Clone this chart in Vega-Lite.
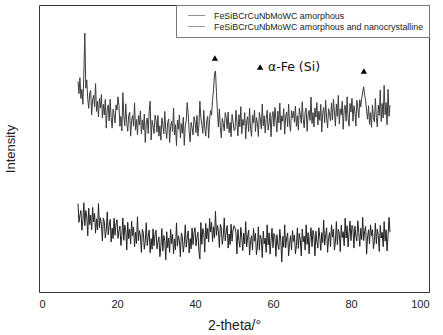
{
"$schema": "https://vega.github.io/schema/vega-lite/v6.json",
"width": 390, "height": 287,
"autosize": {"type": "none"},
"padding": {"left": 39, "top": 5, "right": 14, "bottom": 43},
"background": "white",
"config": {"view": {"stroke": "#333", "strokeWidth": 1}, "font": "Liberation Sans"},
"datasets": {
"xrd": [
{"x":10,"a":30.8,"b":73.4},{"x":10.25,"a":24.3,"b":69.1},{"x":10.5,"a":26.8,"b":74.7},{"x":10.75,"a":28.4,"b":67.4},{"x":11,"a":21.5,"b":70.6},{"x":11.25,"a":25.0,"b":65.4},{"x":11.5,"a":31.1,"b":76},{"x":11.75,"a":23.1,"b":90.2},{"x":12,"a":28.4,"b":71},{"x":12.25,"a":26.5,"b":73.9},
{"x":12.5,"a":19.6,"b":67.2},{"x":12.75,"a":29.2,"b":64.0},{"x":13,"a":23.5,"b":69.3},{"x":13.25,"a":26.8,"b":70.2},{"x":13.5,"a":21.7,"b":61.7},{"x":13.75,"a":29.5,"b":67.0},{"x":14,"a":24.4,"b":68.5},{"x":14.25,"a":27.4,"b":64.6},{"x":14.5,"a":20.5,"b":72.6},{"x":14.75,"a":25.5,"b":62.9},
{"x":15,"a":21.6,"b":66.4},{"x":15.25,"a":30.8,"b":61.0},{"x":15.5,"a":22.4,"b":67.5},{"x":15.75,"a":25.9,"b":64.1},{"x":16,"a":23.5,"b":68.8},{"x":16.25,"a":17.8,"b":60.6},{"x":16.5,"a":25.8,"b":65.4},{"x":16.75,"a":24.5,"b":61.7},{"x":17,"a":18.8,"b":67.1},{"x":17.25,"a":21.6,"b":57.1},
{"x":17.5,"a":27.9,"b":63.7},{"x":17.75,"a":19.9,"b":65.2},{"x":18,"a":23.0,"b":59.6},{"x":18.25,"a":25.3,"b":67.2},{"x":18.5,"a":17.4,"b":60.8},{"x":18.75,"a":22.3,"b":57.1},{"x":19,"a":18.6,"b":63.7},{"x":19.25,"a":25.7,"b":61.7},{"x":19.5,"a":19.8,"b":58.9},{"x":19.75,"a":23.7,"b":65.2},
{"x":20,"a":25.2,"b":63.4},{"x":20.25,"a":18.7,"b":68.0},{"x":20.5,"a":21.3,"b":65.0},{"x":20.75,"a":23.0,"b":57.7},{"x":21,"a":16.2,"b":61.2},{"x":21.25,"a":19.7,"b":56.1},{"x":21.5,"a":25.8,"b":69.5},{"x":21.75,"a":18.0,"b":61.3},{"x":22,"a":23.3,"b":57.9},{"x":22.25,"a":21.5,"b":65.6},
{"x":22.5,"a":14.6,"b":59.1},{"x":22.75,"a":24.3,"b":56.0},{"x":23,"a":18.6,"b":61.5},{"x":23.25,"a":21.9,"b":62.6},{"x":23.5,"a":16.8,"b":54.3},{"x":23.75,"a":24.7,"b":59.8},{"x":24,"a":19.6,"b":61.5},{"x":24.25,"a":22.6,"b":57.8},{"x":24.5,"a":15.7,"b":65.9},{"x":24.75,"a":20.8,"b":56.4},
{"x":25,"a":16.9,"b":60.1},{"x":25.25,"a":26.2,"b":54.8},{"x":25.5,"a":17.9,"b":61.5},{"x":25.75,"a":21.4,"b":58.2},{"x":26,"a":19.5,"b":63.1},{"x":26.25,"a":13.8,"b":55.1},{"x":26.5,"a":21.9,"b":60.0},{"x":26.75,"a":20.6,"b":56.5},{"x":27,"a":14.9,"b":62.0},{"x":27.25,"a":17.8,"b":52.1},
{"x":27.5,"a":24.1,"b":58.9},{"x":27.75,"a":16.2,"b":60.6},{"x":28,"a":19.3,"b":55.2},{"x":28.25,"a":21.6,"b":62.9},{"x":28.5,"a":13.7,"b":66.5},{"x":28.75,"a":18.6,"b":53.0},{"x":29,"a":14.9,"b":59.8},{"x":29.25,"a":22.0,"b":57.9},{"x":29.5,"a":16.1,"b":55.2},{"x":29.75,"a":20.0,"b":61.6},
{"x":30,"a":21.5,"b":59.9},{"x":30.25,"a":15.0,"b":55.7},{"x":30.5,"a":17.5,"b":61.5},{"x":30.75,"a":19.2,"b":54.3},{"x":31,"a":12.3,"b":57.9},{"x":31.25,"a":15.9,"b":52.9},{"x":31.5,"a":22.1,"b":60.7},{"x":31.75,"a":14.3,"b":58.3},{"x":32,"a":19.7,"b":55.1},{"x":32.25,"a":18.0,"b":62.9},
{"x":32.5,"a":11.2,"b":56.5},{"x":32.75,"a":21.0,"b":53.5},{"x":33,"a":15.4,"b":59.1},{"x":33.25,"a":18.8,"b":60.3},{"x":33.5,"a":13.8,"b":52.1},{"x":33.75,"a":21.8,"b":57.7},{"x":34,"a":16.9,"b":59.5},{"x":34.25,"a":20.1,"b":55.9},{"x":34.5,"a":13.3,"b":64.1},{"x":34.75,"a":18.5,"b":54.7},
{"x":35,"a":14.7,"b":58.3},{"x":35.25,"a":24.1,"b":51.0},{"x":35.5,"a":16.0,"b":59.9},{"x":35.75,"a":19.6,"b":56.7},{"x":36,"a":17.9,"b":61.7},{"x":36.25,"a":12.3,"b":53.7},{"x":36.5,"a":20.6,"b":58.7},{"x":36.75,"a":19.4,"b":55.3},{"x":37,"a":13.9,"b":60.9},{"x":37.25,"a":16.9,"b":51.1},
{"x":37.5,"a":23.4,"b":57.9},{"x":37.75,"a":15.6,"b":59.7},{"x":38,"a":18.9,"b":66.0},{"x":38.25,"a":21.3,"b":62.1},{"x":38.5,"a":13.6,"b":55.9},{"x":38.75,"a":18.6,"b":52.3},{"x":39,"a":15.0,"b":59.1},{"x":39.25,"a":22.3,"b":57.3},{"x":39.5,"a":16.5,"b":54.7},{"x":39.75,"a":20.6,"b":61.1},
{"x":40,"a":22.4,"b":59.5},{"x":40.25,"a":16.1,"b":55.5},{"x":40.5,"a":18.9,"b":61.5},{"x":40.75,"a":20.8,"b":54.3},{"x":41,"a":14.1,"b":57.9},{"x":41.25,"a":11.5,"b":66.5},{"x":41.5,"a":24.2,"b":60.7},{"x":41.75,"a":16.6,"b":58.3},{"x":42,"a":22.1,"b":55.3},{"x":42.25,"a":20.5,"b":63.3},
{"x":42.5,"a":13.9,"b":57.1},{"x":42.75,"a":23.9,"b":54.3},{"x":43,"a":18.5,"b":59.6},{"x":43.25,"a":22.2,"b":61.2},{"x":43.5,"a":17.4,"b":53.6},{"x":43.75,"a":25.6,"b":60.2},{"x":44,"a":20.9,"b":63.2},{"x":44.25,"a":24.3,"b":61.6},{"x":44.5,"a":17.6,"b":67.0},{"x":44.75,"a":22.7,"b":70.5},
{"x":45,"a":18.8,"b":76.0},{"x":45.25,"a":28.1,"b":77.0},{"x":45.5,"a":19.7,"b":69.5},{"x":45.75,"a":23.2,"b":62.8},{"x":46,"a":21.2,"b":57.5},{"x":46.25,"a":15.5,"b":63.8},{"x":46.5,"a":23.6,"b":57.4},{"x":46.75,"a":22.3,"b":53.7},{"x":47,"a":16.6,"b":60.5},{"x":47.25,"a":19.5,"b":58.7},
{"x":47.5,"a":25.8,"b":56.1},{"x":47.75,"a":17.8,"b":62.5},{"x":48,"a":20.9,"b":60.9},{"x":48.25,"a":23.2,"b":56.9},{"x":48.5,"a":15.3,"b":62.7},{"x":48.75,"a":20.2,"b":55.5},{"x":49,"a":16.5,"b":59.1},{"x":49.25,"a":23.6,"b":54.1},{"x":49.5,"a":17.7,"b":61.9},{"x":49.75,"a":21.6,"b":59.5},
{"x":50,"a":23.1,"b":56.3},{"x":50.25,"a":22.4,"b":56.5},{"x":50.5,"a":20.6,"b":63.3},{"x":50.75,"a":13.3,"b":59.1},{"x":51,"a":21.8,"b":54.4},{"x":51.25,"a":17.9,"b":61.8},{"x":51.5,"a":15.6,"b":57.6},{"x":51.75,"a":22.5,"b":64.6},{"x":52,"a":19.2,"b":55.1},{"x":52.25,"a":14.4,"b":60.1},
{"x":52.5,"a":20.5,"b":58.1},{"x":52.75,"a":16.8,"b":62.5},{"x":53,"a":24.5,"b":53.3},{"x":53.25,"a":15.7,"b":59.7},{"x":53.5,"a":19.2,"b":61.1},{"x":53.75,"a":21.6,"b":55.9},{"x":54,"a":12.9,"b":64.0},{"x":54.25,"a":17.7,"b":57.0},{"x":54.5,"a":19.6,"b":54.2},{"x":54.75,"a":14.6,"b":61.6},
{"x":55,"a":22.1,"b":58.9},{"x":55.25,"a":17.7,"b":63.4},{"x":55.5,"a":20.4,"b":55.9},{"x":55.75,"a":13.0,"b":60.8},{"x":56,"a":15.7,"b":58.9},{"x":56.25,"a":22.7,"b":54.2},{"x":56.5,"a":14.6,"b":62.6},{"x":56.75,"a":19.8,"b":60.3},{"x":57,"a":18.4,"b":56.8},{"x":57.25,"a":12.0,"b":65.5},
{"x":57.5,"a":21.2,"b":57.9},{"x":57.75,"a":16.8,"b":61.4},{"x":58,"a":18.8,"b":55.4},{"x":58.25,"a":13.8,"b":60.1},{"x":58.5,"a":23.4,"b":63.3},{"x":58.75,"a":16.4,"b":56.4},{"x":59,"a":20.6,"b":58.7},{"x":59.25,"a":13.2,"b":62.5},{"x":59.5,"a":18.0,"b":54.1},{"x":59.75,"a":22.2,"b":61.0},
{"x":60,"a":15.4,"b":62.9},{"x":60.25,"a":20.4,"b":57.7},{"x":60.5,"a":19.2,"b":64.3},{"x":60.75,"a":12.4,"b":60.3},{"x":61,"a":20.0,"b":55.8},{"x":61.25,"a":16.4,"b":63.0},{"x":61.5,"a":14.8,"b":58.9},{"x":61.75,"a":21.8,"b":65.8},{"x":62,"a":17.8,"b":56.5},{"x":62.25,"a":10.5,"b":61.4},
{"x":62.5,"a":19.4,"b":59.5},{"x":62.75,"a":15.6,"b":63.9},{"x":63,"a":23.4,"b":55.0},{"x":63.25,"a":15.4,"b":61.3},{"x":63.5,"a":18.8,"b":62.7},{"x":63.75,"a":20.6,"b":57.6},{"x":64,"a":12.6,"b":65.5},{"x":64.25,"a":17.0,"b":58.6},{"x":64.5,"a":19.6,"b":56.0},{"x":64.75,"a":14.6,"b":63.2},
{"x":65,"a":21.4,"b":60.6},{"x":65.25,"a":17.6,"b":63.0},{"x":65.5,"a":19.9,"b":59.2},{"x":65.75,"a":13.3,"b":64.8},{"x":66,"a":16.1,"b":57.7},{"x":66.25,"a":22.3,"b":61.4},{"x":66.5,"a":15.2,"b":56.4},{"x":66.75,"a":20.4,"b":64.1},{"x":67,"a":18.2,"b":61.9},{"x":67.25,"a":12.6,"b":58.8},
{"x":67.5,"a":21.9,"b":66.3},{"x":67.75,"a":17.5,"b":60.2},{"x":68,"a":19.5,"b":57.2},{"x":68.25,"a":14.6,"b":62.8},{"x":68.5,"a":23.4,"b":64.1},{"x":68.75,"a":16.6,"b":56.0},{"x":69,"a":20.7,"b":61.6},{"x":69.25,"a":13.3,"b":63.3},{"x":69.5,"a":18.9,"b":59.8},{"x":69.75,"a":22.4,"b":67.9},
{"x":70,"a":15.8,"b":58.7},{"x":70.25,"a":21.5,"b":62.5},{"x":70.5,"a":19.7,"b":57.5},{"x":70.75,"a":12.6,"b":64.1},{"x":71,"a":21.2,"b":60.9},{"x":71.25,"a":17.5,"b":66.0},{"x":71.5,"a":15.3,"b":58.2},{"x":71.75,"a":22.4,"b":63.0},{"x":72,"a":19.2,"b":59.8},{"x":72.25,"a":14.5,"b":65.4},
{"x":72.5,"a":20.7,"b":55.8},{"x":72.75,"a":17.2,"b":62.5},{"x":73,"a":25.0,"b":64.3},{"x":73.25,"a":16.3,"b":59.0},{"x":73.5,"a":19.9,"b":66.8},{"x":73.75,"a":22.4,"b":60.6},{"x":74,"a":13.8,"b":57.2},{"x":74.25,"a":18.7,"b":63.9},{"x":74.5,"a":20.7,"b":62.1},{"x":74.75,"a":15.8,"b":59.6},
{"x":75,"a":23.4,"b":65.9},{"x":75.25,"a":19.1,"b":59.9},{"x":75.5,"a":21.9,"b":67.2},{"x":75.75,"a":14.6,"b":62.7},{"x":76,"a":17.4,"b":57.8},{"x":76.25,"a":24.5,"b":65.5},{"x":76.5,"a":16.5,"b":61.2},{"x":76.75,"a":21.8,"b":68.5},{"x":77,"a":20.4,"b":58.6},{"x":77.25,"a":14.1,"b":63.8},
{"x":77.5,"a":23.3,"b":61.7},{"x":77.75,"a":19.0,"b":66.5},{"x":78,"a":21.0,"b":56.7},{"x":78.25,"a":16.1,"b":63.5},{"x":78.5,"a":25.7,"b":65.1},{"x":78.75,"a":18.8,"b":59.5},{"x":79,"a":23.1,"b":68.0},{"x":79.25,"a":15.7,"b":60.7},{"x":79.5,"a":20.5,"b":57.8},{"x":79.75,"a":24.7,"b":65.7},
{"x":80,"a":17.9,"b":62.7},{"x":80.25,"a":23.2,"b":67.5},{"x":80.5,"a":22.1,"b":59.5},{"x":80.75,"a":15.3,"b":64.9},{"x":81,"a":23.0,"b":62.8},{"x":81.25,"a":19.4,"b":57.8},{"x":81.5,"a":17.8,"b":66.8},{"x":81.75,"a":24.8,"b":64.3},{"x":82,"a":20.7,"b":60.7},{"x":82.25,"a":15.9,"b":67.0},
{"x":82.5,"a":22.2,"b":64.5},{"x":82.75,"a":18.3,"b":67.5},{"x":83,"a":26.0,"b":69.8},{"x":83.25,"a":17.9,"b":71.5},{"x":83.5,"a":21.2,"b":68.5},{"x":83.75,"a":22.9,"b":66.8},{"x":84,"a":13.2,"b":63.0},{"x":84.25,"a":19.2,"b":60.2},{"x":84.5,"a":21.7,"b":64.9},{"x":84.75,"a":16.7,"b":58.4},
{"x":85,"a":23.4,"b":62.5},{"x":85.25,"a":19.6,"b":57.4},{"x":85.5,"a":21.7,"b":65.2},{"x":85.75,"a":15.1,"b":60.8},{"x":86,"a":17.8,"b":59.2},{"x":86.25,"a":24.0,"b":67.4},{"x":86.5,"a":16.8,"b":60.8},{"x":86.75,"a":21.9,"b":57.5},{"x":87,"a":19.7,"b":65.1},{"x":87.25,"a":14.1,"b":61.5},
{"x":87.5,"a":23.2,"b":70.4},{"x":87.75,"a":18.8,"b":59.4},{"x":88,"a":20.8,"b":65.7},{"x":88.25,"a":15.8,"b":60.6},{"x":88.5,"a":24.5,"b":72.0},{"x":88.75,"a":17.7,"b":61.8},{"x":89,"a":21.7,"b":66.0},{"x":89.25,"a":14.3,"b":58.3},{"x":89.5,"a":19.8,"b":70.6},{"x":89.75,"a":26.0,"b":61.2},
{"x":90,"a":20.8,"b":65.1}
],
"marks": [{"x":45.1,"y":81.5},{"x":83.3,"y":77.0},{"x":56.7,"y":78.4}],
"notes": [{"x":58.7,"y":78.4,"t":"α-Fe (Si)"}]
},
"layer": [
{
"data": {"name": "xrd"},
"mark": {"type": "line", "strokeWidth": 1, "interpolate": "linear"},
"encoding": {
"x": {"field": "x", "type": "quantitative", "scale": {"domain": [0, 100], "nice": false},
"axis": {"values": [0,20,40,60,80,100], "ticks": false, "domain": false, "grid": false, "labelFont": "Liberation Sans", "labelFontSize": 11, "labelColor": "#222", "labelPadding": 6, "title": "2-theta/°", "titleFont": "Liberation Sans", "titleFontSize": 14, "titleFontWeight": "normal", "titleColor": "#222", "titlePadding": 9}},
"y": {"field": "a", "type": "quantitative", "scale": {"domain": [0, 100], "nice": false},
"axis": {"labels": false, "ticks": false, "domain": false, "grid": false, "title": "Intensity", "titleFont": "Liberation Sans", "titleFontSize": 13, "titleFontWeight": "normal", "titleColor": "#222", "titlePadding": 22}},
"color": {"datum": "FeSiBCrCuNbMoWC amorphous", "type": "nominal",
"scale": {"domain": ["FeSiBCrCuNbMoWC amorphous", "FeSiBCrCuNbMoWC amorphous and nanocrystalline"], "range": ["#222222", "#3c3c3c"]},
"legend": {"title": null, "orient": "top-right", "offset": 0, "symbolType": "M-1.7,0H1.7", "symbolSize": 100, "symbolStrokeWidth": 1, "symbolOpacity": 0.5, "labelFont": "Liberation Sans", "labelFontSize": 8.9, "labelLimit": 0, "labelColor": "#222", "labelOffset": 12, "rowPadding": 0, "padding": 5, "symbolOffset": 10, "strokeColor": "#777", "fillColor": "white"}}
}
},
{
"data": {"name": "xrd"},
"mark": {"type": "line", "strokeWidth": 1, "interpolate": "linear"},
"encoding": {
"x": {"field": "x", "type": "quantitative"},
"y": {"field": "b", "type": "quantitative"},
"color": {"datum": "FeSiBCrCuNbMoWC amorphous and nanocrystalline", "type": "nominal"}
}
},
{
"data": {"name": "marks"},
"mark": {"type": "point", "shape": "triangle-up", "filled": true, "color": "black", "size": 40, "opacity": 1},
"encoding": {"x": {"field": "x", "type": "quantitative"}, "y": {"field": "y", "type": "quantitative"}}
},
{
"data": {"name": "notes"},
"mark": {"type": "text", "align": "left", "baseline": "middle", "font": "DejaVu Sans", "fontSize": 12.5, "color": "#111"},
"encoding": {"x": {"field": "x", "type": "quantitative"}, "y": {"field": "y", "type": "quantitative"}, "text": {"field": "t"}}
}
]
}
